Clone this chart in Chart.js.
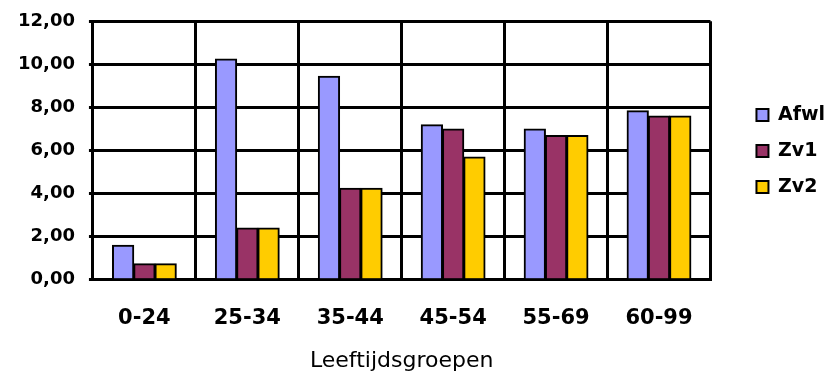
<!DOCTYPE html>
<html lang="en">

<head>
    <meta charset="UTF-8" />
    <title>Leeftijdsgroepen</title>
    <script src="https://cdn.jsdelivr.net/npm/chart.js"></script>
    <style>
        body { margin: 0; background: #fff; }
    </style>
</head>

<body>
    <canvas id="myChart" width="828" height="381"></canvas>

    <script>
        const labels = ["0-24", "25-34", "35-44", "45-54", "55-69", "60-99"];
        const afwl = [1.6, 10.25, 9.45, 7.2, 7.0, 7.85];
        const zv1 = [0.75, 2.4, 4.25, 7.0, 6.7, 7.6];
        const zv2 = [0.75, 2.4, 4.25, 5.7, 6.7, 7.6];
        const yTicks = [0, 2, 4, 6, 8, 10, 12];

        const FONT = "'DejaVu Sans', sans-serif";

        const canvas = document.getElementById("myChart");

        // nudge the legend to the right and up without touching the plot area
        const legendShift = {
            id: "legendShift",
            afterLayout(chart) {
                const l = chart.legend;
                l.left += 29;
                l.right += 29;
                l.top -= 37;
                l.bottom -= 37;
            },
        };

        const config = {
            type: "bar",
            data: {
                labels: labels,
                datasets: [
                    { label: "Afwl", data: afwl, backgroundColor: "#9999FF" },
                    { label: "Zv1", data: zv1, backgroundColor: "#993366" },
                    { label: "Zv2", data: zv2, backgroundColor: "#FFCC00" },
                ].map(d => Object.assign(d, {
                    borderColor: "#000",
                    borderWidth: 2,
                    categoryPercentage: 0.62,
                    barPercentage: 1.0,
                    inflateAmount: 0.5,
                })),
            },
            options: {
                responsive: false,
                animation: false,
                layout: { padding: { left: 4, top: 0, right: 22, bottom: 5 } },
                scales: {
                    x: {
                        offset: true,
                        grid: { offset: true, color: "#000", lineWidth: 3, drawTicks: false },
                        border: { color: "#000", width: 3 },
                        ticks: {
                            color: "#000",
                            font: { family: FONT, size: 21, weight: "bold", lineHeight: 0.8 },
                            padding: 30,
                            maxRotation: 0,
                        },
                        title: {
                            display: true,
                            text: "Leeftijdsgroepen",
                            color: "#000",
                            font: { family: FONT, size: 22 },
                            padding: { top: -9, bottom: 2 },
                        },
                    },
                    y: {
                        min: yTicks[0],
                        max: yTicks[yTicks.length - 1],
                        afterBuildTicks: axis => { axis.ticks = yTicks.map(v => ({ value: v })); },
                        grid: { color: "#000", lineWidth: 3, tickLength: 4 },
                        border: { color: "#000", width: 3 },
                        ticks: {
                            color: "#000",
                            font: { family: FONT, size: 18, weight: "bold", lineHeight: 0.8 },
                            padding: 14,
                            callback: v => v.toFixed(2).replace(".", ","),
                        },
                    },
                },
                plugins: {
                    legend: {
                        position: "right",
                        labels: {
                            color: "#000",
                            boxWidth: 12,
                            boxHeight: 12,
                            padding: 17,
                            font: { family: FONT, size: 19, weight: "bold" },
                        },
                    },
                    tooltip: { enabled: false },
                },
            },
            plugins: [legendShift],
        };

        const myChart = new Chart(canvas, config);
    </script>
</body>

</html>
